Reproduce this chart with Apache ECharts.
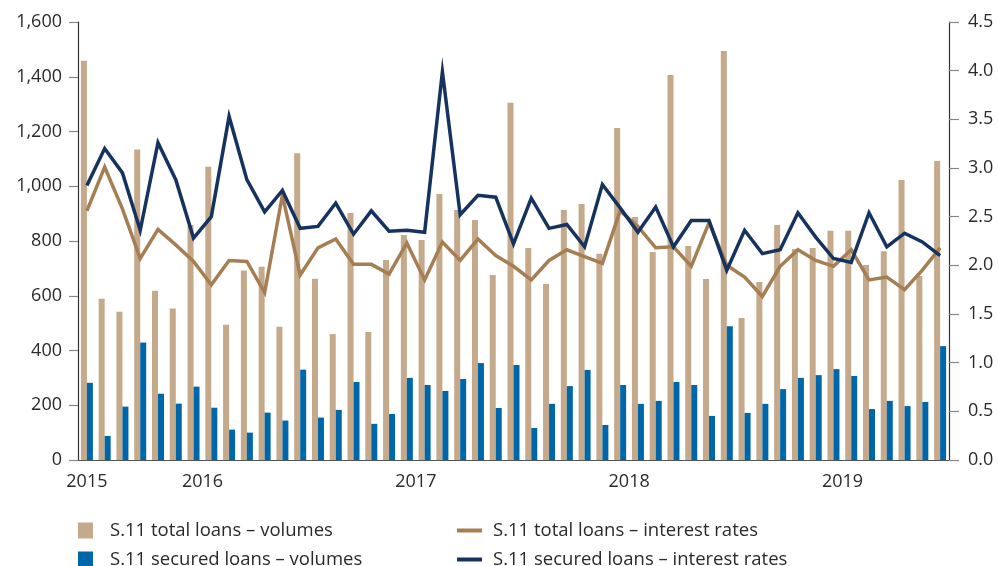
<!DOCTYPE html>
<html>
<head>
<meta charset="utf-8">
<script src="https://cdn.jsdelivr.net/npm/echarts@6/dist/echarts.min.js"></script>
<style>
  html, body { margin: 0; padding: 0; background: #fff; }
  #chart { width: 998px; height: 566px; }
</style>
</head>
<body>
<div id="chart"></div>
<script>
// Monthly observations, December 2015 to December 2019
const months = [];
(function () {
  months.push('2015-12');
  for (let y = 2016; y <= 2019; y++) {
    for (let m = 1; m <= 12; m++) months.push(y + '-' + String(m).padStart(2, '0'));
  }
})();

// Volumes (left axis)
const totalVolumes = [
  1458, 589, 542, 1134, 618, 553, 858, 1071, 494, 692, 706, 487, 1121,
  662, 460, 902, 468, 731, 822, 804, 972, 913, 877, 676, 1305,
  774, 643, 913, 935, 753, 1213, 888, 760, 1406, 782, 661, 1494,
  519, 650, 858, 771, 774, 837, 837, 712, 763, 1023, 672, 1092
];
const securedVolumes = [
  282, 88, 195, 429, 242, 206, 268, 191, 111, 100, 173, 144, 330,
  155, 183, 285, 132, 168, 300, 274, 252, 296, 354, 190, 347,
  117, 205, 270, 329, 128, 274, 205, 216, 285, 274, 161, 489,
  172, 205, 259, 300, 310, 332, 307, 186, 216, 197, 212, 416
];

// Interest rates (right axis)
const totalRates = [
  2.56, 3.01, 2.58, 2.07, 2.37, 2.21, 2.04, 1.80, 2.05, 2.04, 1.72, 2.72, 1.90,
  2.18, 2.27, 2.01, 2.01, 1.91, 2.23, 1.85, 2.24, 2.05, 2.27, 2.10, 1.99,
  1.85, 2.05, 2.16, 2.09, 2.02, 2.56, 2.40, 2.18, 2.19, 1.99, 2.44, 2.00,
  1.88, 1.68, 1.99, 2.16, 2.05, 1.99, 2.16, 1.85, 1.88, 1.75, 1.95, 2.18
];
const securedRates = [
  2.82, 3.20, 2.95, 2.36, 3.26, 2.88, 2.28, 2.50, 3.53, 2.88, 2.55, 2.77, 2.38,
  2.40, 2.64, 2.32, 2.56, 2.35, 2.36, 2.34, 3.99, 2.52, 2.72, 2.70, 2.22,
  2.69, 2.38, 2.42, 2.19, 2.83, 2.59, 2.34, 2.60, 2.19, 2.46, 2.46, 1.95,
  2.36, 2.12, 2.16, 2.54, 2.29, 2.07, 2.03, 2.54, 2.19, 2.33, 2.24, 2.10
];

const seriesNames = [
  'S.11 total loans \u2013 volumes',
  'S.11 secured loans \u2013 volumes',
  'S.11 total loans \u2013 interest rates',
  'S.11 secured loans \u2013 interest rates'
];

const FONT = '"Open Sans", "Noto Sans", sans-serif';
const TEXT = '#2a2a2a';
const colors = { tan: '#C4A98A', blue: '#0066AA', brown: '#A67E54', navy: '#16325E' };

const chart = echarts.init(document.getElementById('chart'), null, { renderer: 'canvas' });

const legendText = { fontFamily: FONT, fontSize: 18.5, lineHeight: 16, color: TEXT };

chart.setOption({
  animation: false,
  backgroundColor: '#ffffff',
  textStyle: { fontFamily: FONT },
  grid: { left: 78, right: 49, top: 22, bottom: 106, containLabel: false },
  legend: [
    {
      data: [seriesNames[0], seriesNames[1]],
      orient: 'vertical',
      left: 78, top: 521, height: 80, padding: 0,
      itemWidth: 15, itemHeight: 16, itemGap: 10,
      icon: 'rect',
      textStyle: Object.assign({ padding: [0, 0, 0, 12] }, legendText)
    },
    {
      data: [seriesNames[2], seriesNames[3]],
      orient: 'vertical',
      left: 457, top: 521, height: 80, padding: 0,
      itemWidth: 25, itemHeight: 16, itemGap: 10,
      icon: 'path://M0,6 L25,6 L25,10 L0,10 Z',
      textStyle: Object.assign({ padding: [0, 0, 0, 6] }, legendText)
    }
  ],
  xAxis: {
    type: 'category',
    data: months,
    boundaryGap: true,
    axisLine: { lineStyle: { color: '#555', width: 1.2 } },
    axisTick: {
      length: 9,
      lineStyle: { color: '#555', width: 1.2 },
      interval: function (i) { return i === 0 || (i - 1) % 12 === 0; }
    },
    axisLabel: {
      interval: function (i) { return i === 0 || (i - 1) % 12 === 5; },
      margin: 13,
      fontFamily: FONT,
      fontSize: 18,
      color: TEXT,
      formatter: function (v, i) {
        const y = v.slice(0, 4);
        return i === 0 ? y : '{mid|' + y + '}';
      },
      rich: { mid: { padding: [0, 0, 0, 18], fontFamily: FONT, fontSize: 18, color: TEXT } }
    },
    splitLine: { show: false }
  },
  yAxis: [
    {
      type: 'value',
      min: 0, max: 1600, interval: 200,
      axisLine: { show: true, lineStyle: { color: '#333', width: 1.2 } },
      axisTick: { show: true, length: 9, lineStyle: { color: '#888', width: 1.2 } },
      axisLabel: {
        margin: 16, fontFamily: FONT, fontSize: 18, color: TEXT,
        formatter: function (v) { return v.toLocaleString('en-US'); }
      },
      splitLine: { show: false }
    },
    {
      type: 'value',
      min: 0, max: 4.5, interval: 0.5,
      position: 'right',
      axisLine: { show: true, lineStyle: { color: '#333', width: 1.2 } },
      axisTick: { show: true, length: 10, lineStyle: { color: '#888', width: 1.2 } },
      axisLabel: {
        margin: 19, fontFamily: FONT, fontSize: 18, color: TEXT,
        formatter: function (v) { return v.toFixed(1); }
      },
      splitLine: { show: false }
    }
  ],
  series: [
    {
      name: seriesNames[0], type: 'bar', yAxisIndex: 0,
      data: totalVolumes, barWidth: 6, barGap: '0%',
      itemStyle: { color: colors.tan }
    },
    {
      name: seriesNames[1], type: 'bar', yAxisIndex: 0,
      data: securedVolumes, barWidth: 6, barGap: '0%',
      itemStyle: { color: colors.blue }
    },
    {
      name: seriesNames[2], type: 'line', yAxisIndex: 1,
      data: totalRates, showSymbol: false, symbol: 'none',
      lineStyle: { color: colors.brown, width: 3.5, join: 'miter' },
      itemStyle: { color: colors.brown }
    },
    {
      name: seriesNames[3], type: 'line', yAxisIndex: 1,
      data: securedRates, showSymbol: false, symbol: 'none',
      lineStyle: { color: colors.navy, width: 3.5, join: 'miter' },
      itemStyle: { color: colors.navy }
    }
  ]
});
</script>
</body>
</html>
